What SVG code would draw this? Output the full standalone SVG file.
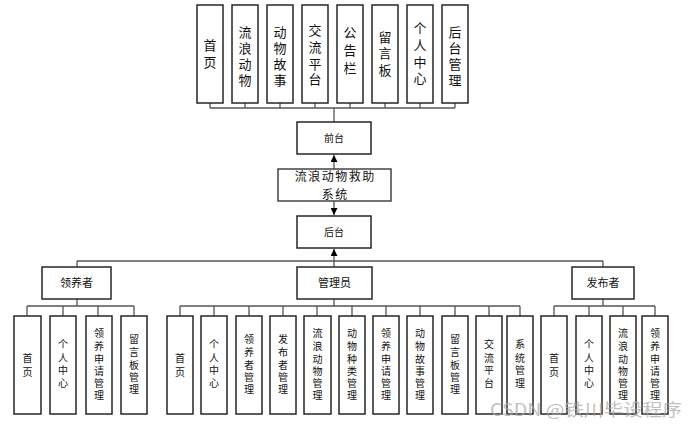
<svg xmlns="http://www.w3.org/2000/svg" width="697" height="431" viewBox="0 0 697 431">
<defs>
<style>
.box{fill:#fff;stroke:#262626;stroke-width:1.5}
.ln{fill:none;stroke:#555;stroke-width:1.3}
.t13{font-family:"Noto Sans CJK SC","Noto Sans",sans-serif;font-size:13px;fill:#111;text-anchor:middle}
.t10{font-family:"Noto Sans CJK SC","Noto Sans",sans-serif;font-size:10px;fill:#111;text-anchor:middle}
.t11{font-family:"Noto Sans CJK SC","Noto Sans",sans-serif;font-size:11px;fill:#111;text-anchor:middle}
.t14{font-family:"Noto Sans CJK SC","Noto Sans",sans-serif;font-size:12px;letter-spacing:1.5px;fill:#111;text-anchor:middle}
.wm{font-family:"Noto Sans CJK SC","Noto Sans",sans-serif;font-size:17px;fill:#aaa;fill-opacity:0.75}
</style>
<marker id="ah" viewBox="0 0 10 10" refX="10" refY="5" markerWidth="7" markerHeight="7" markerUnits="userSpaceOnUse" orient="auto">
<path d="M0,0 L10,5 L0,10 z" fill="#000"/>
</marker>
</defs>

<g id="connectors">
<path class="ln" d="M210,103V108M245,103V108M280,103V108M315,103V108M350,103V108M385,103V108M420,103V108M455,103V108M210,108H455M334,108V122"/>
<path class="ln" d="M334,169V155" marker-end="url(#ah)"/>
<path class="ln" d="M334,201V215" marker-end="url(#ah)"/>
<path class="ln" d="M334,261V249" marker-end="url(#ah)"/>
<path class="ln" d="M77,261H603M77,261V267M603,261V267M334,261V267"/>
<path class="ln" d="M77,299V306M27,306H134M27,306V316M63,306V316M98,306V316M134,306V316"/>
<path class="ln" d="M334,299V306M180,306H520M180,306V316M214,306V316M249,306V316M283,306V316M317,306V316M352,306V316M386,306V316M420,306V316M455,306V316M489,306V316M520,306V316"/>
<path class="ln" d="M603,299V306M554,306H655M554,306V316M589,306V316M623,306V316M655,306V316"/>
</g>

<g id="top-nodes">
<g id="n-shouye"><rect class="box" x="197" y="5" width="26" height="98"/><text class="t13"><tspan x="210" y="50">首</tspan><tspan x="210" y="67">页</tspan></text></g>
<g id="n-liulang"><rect class="box" x="232" y="5" width="26" height="98"/><text class="t13"><tspan x="245" y="37">流</tspan><tspan x="245" y="53">浪</tspan><tspan x="245" y="69">动</tspan><tspan x="245" y="85">物</tspan></text></g>
<g id="n-gushi"><rect class="box" x="267" y="5" width="26" height="98"/><text class="t13"><tspan x="280" y="37">动</tspan><tspan x="280" y="53">物</tspan><tspan x="280" y="69">故</tspan><tspan x="280" y="85">事</tspan></text></g>
<g id="n-jiaoliu"><rect class="box" x="302" y="5" width="26" height="98"/><text class="t13"><tspan x="315" y="35">交</tspan><tspan x="315" y="52">流</tspan><tspan x="315" y="69">平</tspan><tspan x="315" y="84">台</tspan></text></g>
<g id="n-gonggao"><rect class="box" x="337" y="5" width="26" height="98"/><text class="t13"><tspan x="350" y="37">公</tspan><tspan x="350" y="55">告</tspan><tspan x="350" y="73">栏</tspan></text></g>
<g id="n-liuyan"><rect class="box" x="372" y="5" width="26" height="98"/><text class="t13"><tspan x="385" y="42">留</tspan><tspan x="385" y="58">言</tspan><tspan x="385" y="75">板</tspan></text></g>
<g id="n-geren"><rect class="box" x="407" y="5" width="26" height="98"/><text class="t13"><tspan x="420" y="33">个</tspan><tspan x="420" y="50">人</tspan><tspan x="420" y="67">中</tspan><tspan x="420" y="83">心</tspan></text></g>
<g id="n-houtaiguanli"><rect class="box" x="442" y="5" width="26" height="98"/><text class="t13"><tspan x="455" y="37">后</tspan><tspan x="455" y="53">台</tspan><tspan x="455" y="69">管</tspan><tspan x="455" y="85">理</tspan></text></g>
</g>

<g id="n-qiantai"><rect class="box" x="297" y="122" width="74" height="32"/><text class="t10" x="334" y="142">前台</text></g>
<g id="n-system"><rect class="box" x="278" y="169" width="113" height="32" style="stroke:#444"/><text class="t14"><tspan x="335.2" y="181">流浪动物救助</tspan><tspan x="335.2" y="199">系统</tspan></text></g>
<g id="n-houtai"><rect class="box" x="297" y="216" width="74" height="32"/><text class="t10" x="334" y="236">后台</text></g>

<g id="n-lingyang"><rect class="box" x="42" y="267" width="69" height="32"/><text class="t11" x="76.5" y="287">领养者</text></g>
<g id="n-admin"><rect class="box" x="297" y="267" width="75" height="32"/><text class="t11" x="334.5" y="287">管理员</text></g>
<g id="n-fabu"><rect class="box" x="572" y="267" width="62" height="32"/><text class="t11" x="603" y="287">发布者</text></g>

<g id="left-nodes">
<g><rect class="box" x="14" y="316" width="27" height="98"/><text class="t10"><tspan x="27.5" y="362">首</tspan><tspan x="27.5" y="376">页</tspan></text></g>
<g><rect class="box" x="50" y="316" width="26" height="98"/><text class="t10"><tspan x="63" y="348">个</tspan><tspan x="63" y="362">人</tspan><tspan x="63" y="374">中</tspan><tspan x="63" y="387">心</tspan></text></g>
<g><rect class="box" x="86" y="316" width="26" height="98"/><text class="t10"><tspan x="99" y="337">领</tspan><tspan x="99" y="350">养</tspan><tspan x="99" y="363">申</tspan><tspan x="99" y="375">请</tspan><tspan x="99" y="387">管</tspan><tspan x="99" y="399">理</tspan></text></g>
<g><rect class="box" x="121" y="316" width="26" height="98"/><text class="t10"><tspan x="134" y="343">留</tspan><tspan x="134" y="356">言</tspan><tspan x="134" y="369">板</tspan><tspan x="134" y="381">管</tspan><tspan x="134" y="393">理</tspan></text></g>
</g>

<g id="admin-nodes">
<g><rect class="box" x="167" y="316" width="26" height="98"/><text class="t10"><tspan x="180" y="362">首</tspan><tspan x="180" y="376">页</tspan></text></g>
<g><rect class="box" x="201" y="316" width="26" height="98"/><text class="t10"><tspan x="214" y="348">个</tspan><tspan x="214" y="362">人</tspan><tspan x="214" y="374">中</tspan><tspan x="214" y="387">心</tspan></text></g>
<g><rect class="box" x="236" y="316" width="26" height="98"/><text class="t10"><tspan x="249" y="343">领</tspan><tspan x="249" y="356">养</tspan><tspan x="249" y="369">者</tspan><tspan x="249" y="381">管</tspan><tspan x="249" y="393">理</tspan></text></g>
<g><rect class="box" x="270" y="316" width="26" height="98"/><text class="t10"><tspan x="283" y="343">发</tspan><tspan x="283" y="356">布</tspan><tspan x="283" y="369">者</tspan><tspan x="283" y="381">管</tspan><tspan x="283" y="393">理</tspan></text></g>
<g><rect class="box" x="304" y="316" width="27" height="98"/><text class="t10"><tspan x="317.5" y="337">流</tspan><tspan x="317.5" y="350">浪</tspan><tspan x="317.5" y="363">动</tspan><tspan x="317.5" y="375">物</tspan><tspan x="317.5" y="387">管</tspan><tspan x="317.5" y="399">理</tspan></text></g>
<g><rect class="box" x="339" y="316" width="26" height="98"/><text class="t10"><tspan x="352" y="337">动</tspan><tspan x="352" y="350">物</tspan><tspan x="352" y="363">种</tspan><tspan x="352" y="375">类</tspan><tspan x="352" y="387">管</tspan><tspan x="352" y="399">理</tspan></text></g>
<g><rect class="box" x="373" y="316" width="26" height="98"/><text class="t10"><tspan x="386" y="337">领</tspan><tspan x="386" y="350">养</tspan><tspan x="386" y="363">申</tspan><tspan x="386" y="375">请</tspan><tspan x="386" y="387">管</tspan><tspan x="386" y="399">理</tspan></text></g>
<g><rect class="box" x="407" y="316" width="26" height="98"/><text class="t10"><tspan x="420" y="337">动</tspan><tspan x="420" y="350">物</tspan><tspan x="420" y="363">故</tspan><tspan x="420" y="375">事</tspan><tspan x="420" y="387">管</tspan><tspan x="420" y="399">理</tspan></text></g>
<g><rect class="box" x="442" y="316" width="26" height="98"/><text class="t10"><tspan x="455" y="343">留</tspan><tspan x="455" y="356">言</tspan><tspan x="455" y="369">板</tspan><tspan x="455" y="381">管</tspan><tspan x="455" y="393">理</tspan></text></g>
<g><rect class="box" x="476" y="316" width="26" height="98"/><text class="t10"><tspan x="489" y="348">交</tspan><tspan x="489" y="362">流</tspan><tspan x="489" y="374">平</tspan><tspan x="489" y="387">台</tspan></text></g>
<g><rect class="box" x="507" y="316" width="26" height="98"/><text class="t10"><tspan x="520" y="348">系</tspan><tspan x="520" y="362">统</tspan><tspan x="520" y="374">管</tspan><tspan x="520" y="387">理</tspan></text></g>
</g>

<g id="right-nodes">
<g><rect class="box" x="541" y="316" width="26" height="98"/><text class="t10"><tspan x="554" y="362">首</tspan><tspan x="554" y="376">页</tspan></text></g>
<g><rect class="box" x="576" y="316" width="26" height="98"/><text class="t10"><tspan x="589" y="348">个</tspan><tspan x="589" y="362">人</tspan><tspan x="589" y="374">中</tspan><tspan x="589" y="387">心</tspan></text></g>
<g><rect class="box" x="610" y="316" width="26" height="98"/><text class="t10"><tspan x="623" y="337">流</tspan><tspan x="623" y="350">浪</tspan><tspan x="623" y="363">动</tspan><tspan x="623" y="375">物</tspan><tspan x="623" y="387">管</tspan><tspan x="623" y="399">理</tspan></text></g>
<g><rect class="box" x="642" y="316" width="26" height="98"/><text class="t10"><tspan x="655" y="337">领</tspan><tspan x="655" y="350">养</tspan><tspan x="655" y="363">申</tspan><tspan x="655" y="375">请</tspan><tspan x="655" y="387">管</tspan><tspan x="655" y="399">理</tspan></text></g>
</g>

<text class="wm" x="490" y="416" textLength="192" lengthAdjust="spacingAndGlyphs">CSDN @铁川毕设程序</text>
</svg>
